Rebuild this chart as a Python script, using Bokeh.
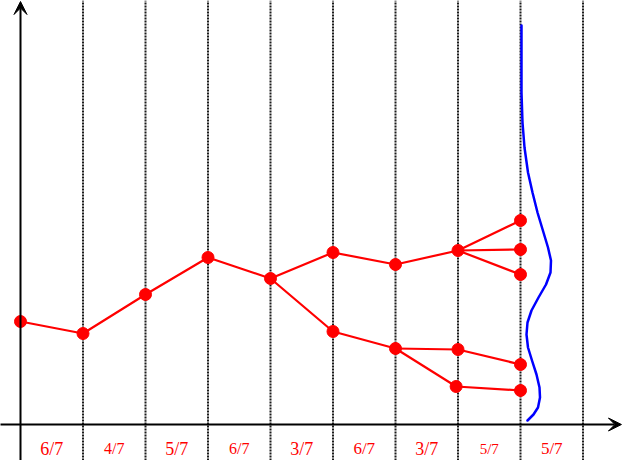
from bokeh.plotting import figure
from bokeh.models import Range1d, Arrow, VeeHead, ColumnDataSource
from bokeh.core.properties import value
from bokeh.embed import file_html
from bokeh.resources import INLINE

# ---- data -------------------------------------------------------------
# column boundaries (time steps)
columns = [1, 2, 3, 4, 5, 6, 7, 8, 9]
# fractions shown under each interval
interval_labels = ["6/7", "4/7", "5/7", "6/7", "3/7", "6/7", "3/7", "5/7", "5/7"]
interval_centers = [0.5, 1.5, 2.5, 3.5, 4.5, 5.5, 6.5, 7.5, 8.5]

# tree nodes (step, value)
node_x = [0, 1, 2, 3, 4, 5, 6, 7, 8, 8, 8, 5, 6, 7, 8, 6.97, 8]
node_y = [103, 91, 130, 167, 146, 172, 160, 174, 204, 175, 150, 93, 76, 75, 60, 38, 34]
# tree edges (node index pairs)
edge_from = [0, 1, 2, 3, 4, 5, 6, 7, 7, 7, 4, 11, 12, 13, 12, 15]
edge_to   = [1, 2, 3, 4, 5, 6, 7, 8, 9, 10, 11, 12, 13, 14, 15, 16]

# density curve at the last step (value, density)
curve_y = [399, 372, 332, 302, 277, 252, 232, 212, 192, 177, 164, 152, 140,
           127, 114, 102, 90, 77, 64, 50, 37, 27, 17, 10, 4]
curve_density = [0.016, 0.016, 0.016, 0.032, 0.064, 0.12, 0.192, 0.272, 0.368,
                 0.44, 0.488, 0.48, 0.408, 0.288, 0.176, 0.112, 0.096, 0.12,
                 0.184, 0.256, 0.304, 0.312, 0.28, 0.208, 0.112]
curve_base = 8

# ---- styling (not data) -----------------------------------------------
label_font_px = [18, 16, 18, 16, 18, 17, 18, 15, 17]

p = figure(width=622, height=460, x_range=Range1d(-0.32, 9.632),
           y_range=Range1d(-36, 424), output_backend="svg",
           toolbar_location=None, min_border=0, min_border_left=0,
           min_border_right=0, min_border_top=0, min_border_bottom=0)
p.axis.visible = False
p.grid.visible = False
p.outline_line_color = None
p.background_fill_color = "white"
p.border_fill_color = "white"

# dotted vertical lines
p.segment(x0=columns, x1=columns, y0=[-36] * len(columns), y1=[424] * len(columns),
          line_color="#1a1a1a", line_width=2, line_dash="2 1")

# axes with arrows
p.add_layout(Arrow(end=VeeHead(size=13, fill_color="black", line_color="black"),
                   x_start=0, y_start=-36, x_end=0, y_end=423,
                   line_color="black", line_width=2))
p.add_layout(Arrow(end=VeeHead(size=13, fill_color="black", line_color="black"),
                   x_start=-0.37, y_start=0, x_end=9.615, y_end=0,
                   line_color="black", line_width=2))

# density curve
p.line(x=[curve_base + d for d in curve_density], y=curve_y,
       line_color="#0000ff", line_width=2.5, line_join="round", line_cap="round")

# tree edges
p.segment(x0=[node_x[i] for i in edge_from], y0=[node_y[i] for i in edge_from],
          x1=[node_x[i] for i in edge_to], y1=[node_y[i] for i in edge_to],
          line_color="#ff0000", line_width=2.2, line_cap="round")

# tree nodes
p.scatter(x=node_x, y=node_y, size=12, fill_color="#ff0000", line_color="#ff0000")

# interval labels
src = ColumnDataSource(dict(x=interval_centers, y=[-24] * len(interval_centers),
                            t=interval_labels,
                            fs=[f"{s}px" for s in label_font_px]))
p.text(x="x", y="y", text="t", source=src, text_font=value("Liberation Serif"),
       text_font_size="fs", text_color="#ff0000", text_align="center",
       text_baseline="middle")

open("out.html", "w").write(file_html(p, INLINE))
